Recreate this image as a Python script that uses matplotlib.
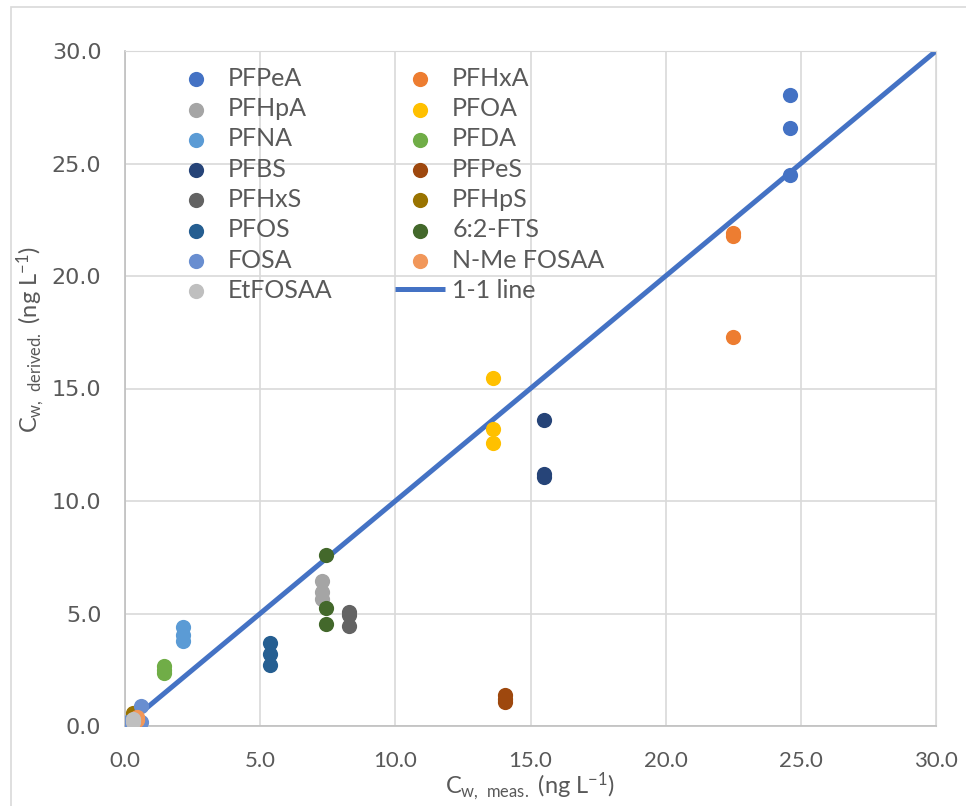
import matplotlib
matplotlib.use("Agg")
import matplotlib.pyplot as plt
from matplotlib.patches import Rectangle

# compounds in Excel series order
compounds = ["PFPeA", "PFHxA", "PFHpA", "PFOA", "PFNA", "PFDA", "PFBS", "PFPeS",
             "PFHxS", "PFHpS", "PFOS", "6:2-FTS", "FOSA", "N-Me FOSAA", "EtFOSAA"]
colors = ["#4472C4", "#ED7D31", "#A5A5A5", "#FFC000", "#5B9BD5", "#70AD47", "#264478",
          "#9E480E", "#636363", "#997300", "#255E91", "#43682B", "#698ED0", "#F1975A",
          "#BFBFBF"]

c_meas = {
    "PFPeA": [24.6, 24.6, 24.6],
    "PFHxA": [22.5, 22.5, 22.5],
    "PFHpA": [7.3, 7.3, 7.3],
    "PFOA": [13.6, 13.6, 13.6],
    "PFNA": [2.15, 2.15, 2.15],
    "PFDA": [1.45, 1.45, 1.45],
    "PFBS": [15.5, 15.5, 15.5],
    "PFPeS": [14.05, 14.05, 14.05],
    "PFHxS": [8.3, 8.3, 8.3],
    "PFHpS": [0.3, 0.3, 0.3],
    "PFOS": [5.35, 5.35, 5.35],
    "6:2-FTS": [7.45, 7.45, 7.45],
    "FOSA": [0.6, 0.6, 0.1],
    "N-Me FOSAA": [0.45, 0.45, 0.45],
    "EtFOSAA": [0.3, 0.3, 0.3],
}
c_derived = {
    "PFPeA": [28.05, 26.6, 24.5],
    "PFHxA": [21.9, 21.8, 17.3],
    "PFHpA": [6.45, 5.95, 5.65],
    "PFOA": [15.45, 13.2, 12.6],
    "PFNA": [4.4, 4.05, 3.8],
    "PFDA": [2.65, 2.5, 2.35],
    "PFBS": [13.6, 11.2, 11.05],
    "PFPeS": [1.4, 1.2, 1.05],
    "PFHxS": [5.05, 4.95, 4.45],
    "PFHpS": [0.6, 0.5, 0.45],
    "PFOS": [3.7, 3.2, 2.7],
    "6:2-FTS": [7.6, 5.25, 4.55],
    "FOSA": [0.9, 0.2, 0.2],
    "N-Me FOSAA": [0.4, 0.3, 0.25],
    "EtFOSAA": [0.3, 0.25, 0.2],
}
one_to_one = [0, 30]

txt = "#595959"
plt.rcParams["font.family"] = ["Lato", "DejaVu Sans"]
plt.rcParams["mathtext.default"] = "regular"

fig = plt.figure(figsize=(9.66, 8.06), dpi=100)
fig.patches.append(Rectangle((11 / 966, -0.1), 1.2, 1 - 7 / 806 + 0.1,
                             transform=fig.transFigure, fill=False,
                             edgecolor="#D9D9D9", linewidth=1.2))
ax = fig.add_axes([125 / 966, 1 - 726 / 806, (936 - 125) / 966, (726 - 51) / 806])

handles = {}
for name, col in zip(compounds, colors):
    handles[name] = ax.scatter(c_meas[name], c_derived[name], s=120, color=col,
                               label=name, zorder=3, linewidths=0)
line, = ax.plot(one_to_one, one_to_one, color="#4472C4", lw=3.6, label="1-1 line",
                zorder=2, solid_capstyle="butt")

ax.set_xlim(0, 30)
ax.set_ylim(0, 30)
ticks = [0, 5, 10, 15, 20, 25, 30]
ax.set_xticks(ticks)
ax.set_yticks(ticks)
ax.set_xticklabels([f"{t:.1f}" for t in ticks], fontsize=16, color=txt)
ax.set_yticklabels([f"{t:.1f}" for t in ticks], fontsize=16, color=txt,
                   family="DejaVu Sans")
ax.tick_params(axis="x", length=0, pad=18)
ax.tick_params(axis="y", length=0, pad=17)
ax.grid(True, color="#D9D9D9", lw=1.2, zorder=0)
ax.set_axisbelow(True)
for s in ["top", "right"]:
    ax.spines[s].set_color("#D9D9D9")
for s in ["left", "bottom"]:
    ax.spines[s].set_color("#BFBFBF")
    ax.spines[s].set_linewidth(1.2)

ax.set_xlabel(r"C$_{w,\ meas.}$ (ng L$^{-1}$)", fontsize=17, color=txt, labelpad=0)
ax.set_ylabel(r"C$_{w,\ derived.}$ (ng L$^{-1}$)", fontsize=17, color=txt, labelpad=2)
ax.yaxis.set_label_coords(-0.096, (726 - 340) / 675)

# Excel legend fills row-wise; matplotlib fills column-wise
order = ["PFPeA", "PFHpA", "PFNA", "PFBS", "PFHxS", "PFOS", "FOSA", "EtFOSAA",
         "PFHxA", "PFOA", "PFDA", "PFPeS", "PFHpS", "6:2-FTS", "N-Me FOSAA"]
hs = [handles[n] for n in order] + [line]
labels = order + ["1-1 line"]
leg = ax.legend(hs, labels, ncol=2, loc="upper left",
                bbox_to_anchor=(171 / 966, 1 - 67 / 806),
                bbox_transform=fig.transFigure, frameon=False, fontsize=18,
                handlelength=2.0, handletextpad=0.28, columnspacing=2.5,
                labelspacing=0.29, borderpad=0, borderaxespad=0, scatterpoints=1)
for t in leg.get_texts():
    t.set_color(txt)

fig.savefig("out.png", dpi=100)
